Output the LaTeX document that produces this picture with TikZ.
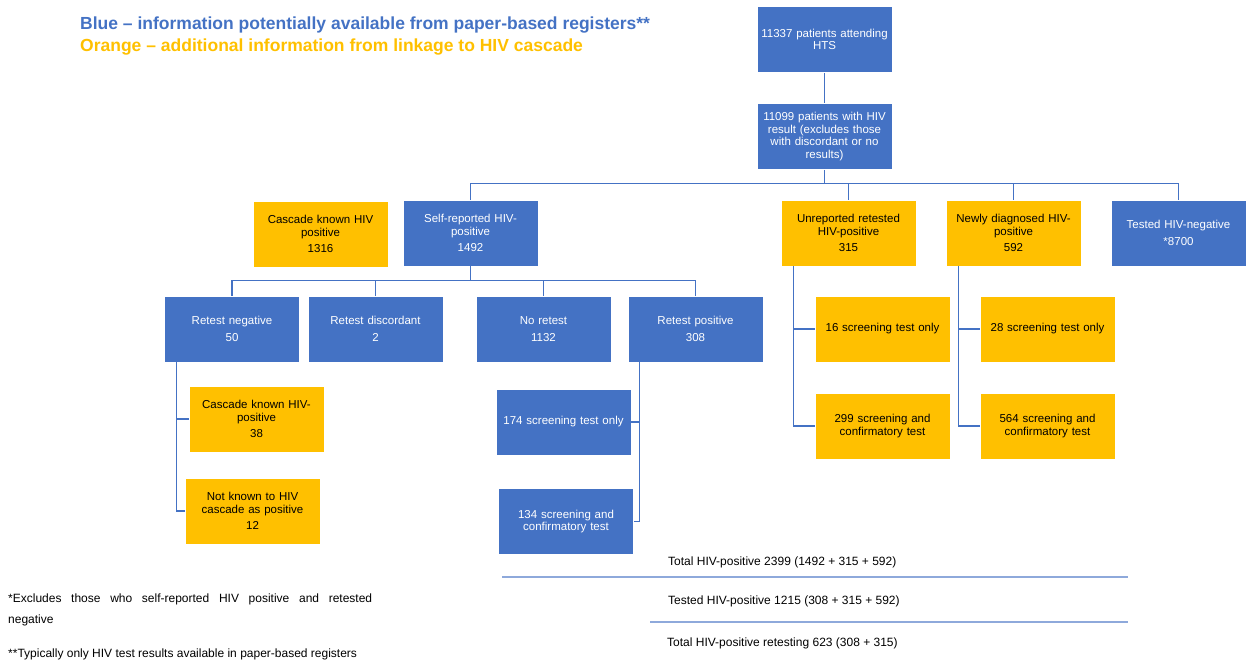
\documentclass[tikz,border=0pt]{standalone}
\usepackage{fontspec}
\setmainfont{Liberation Sans}
\definecolor{bblue}{HTML}{4472C4}
\definecolor{borange}{HTML}{FFC000}
\definecolor{lline}{HTML}{8EA9DB}
\begin{document}
\begin{tikzpicture}[x=1pt,y=-1pt,
  box/.style={rectangle, minimum width=135pt, minimum height=66pt, text width=133pt, inner sep=1pt, align=center, font=\fontsize{11.5}{12.6}\selectfont, draw=white, line width=0.5pt},
  bluebox/.style={box, fill=bblue, text=white},
  orbox/.style={box, fill=borange, text=black},
  conn/.style={draw=bblue, line width=1.3pt},
  sep/.style={draw=lline, line width=1.2pt},
  note/.style={anchor=west, inner sep=0pt, font=\fontsize{12}{14}\selectfont},
  head/.style={anchor=west, inner sep=0pt, font=\fontsize{17.5}{20}\selectfont\bfseries}]
\useasboundingbox (0,0) rectangle (1249,664);

% legend
\node[head, text=bblue] (h1) at (80,25) {Blue – information potentially available from paper-based registers**};
\node[head, text=borange] (h2) at (80,47) {Orange – additional information from linkage to HIV cascade};

% top
\node[bluebox] (A) at (824.5,39.5) {11337 patients attending\\HTS};
\node[bluebox] (B) at (824.5,136.5) {11099 patients with HIV\\result (excludes those\\with discordant or no\\results)};

% level 2
\node[orbox] (c1316) at (320.5,234) {Cascade known HIV\\positive\\[4pt]1316};
\node[bluebox] (self) at (470.5,233) {Self-reported HIV-\\positive\\[4pt]1492};
\node[orbox] (unrep) at (848.5,233) {Unreported retested\\HIV-positive\\[4pt]315};
\node[orbox] (newly) at (1013.5,233) {Newly diagnosed HIV-\\positive\\[4pt]592};
\node[bluebox] (neg) at (1178.5,233) {Tested HIV-negative\\[5pt]*8700};

% level 3
\node[bluebox] (rneg) at (232,329) {Retest negative\\[5pt]50};
\node[bluebox] (rdisc) at (375.5,329) {Retest discordant\\[5pt]2};
\node[bluebox] (nore) at (543.5,329) {No retest\\[5pt]1132};
\node[bluebox] (rpos) at (695.5,329) {Retest positive\\[5pt]308};

\node[orbox] (s16) at (882.5,329) {16 screening test only};
\node[orbox] (s299) at (882.5,426) {299 screening and\\confirmatory test};
\node[orbox] (s28) at (1047.5,329) {28 screening test only};
\node[orbox] (s564) at (1047.5,426) {564 screening and\\confirmatory test};

% level 4
\node[orbox] (c38) at (256.5,419) {Cascade known HIV-\\positive\\[4pt]38};
\node[orbox] (nk12) at (252.5,511) {Not known to HIV\\cascade as positive\\[4pt]12};
\node[bluebox] (s174) at (563.5,422) {174 screening test only};
\node[bluebox] (s134) at (566,521.5) {134 screening and\\confirmatory test};

% connectors
\draw[conn] (A.south) -- (B.north);
\draw[conn] (B.south) -- ++(0,14);
\draw[conn] (self.north) -- ++(0,-16) -| (neg.north);
\draw[conn] (unrep.north) -- ++(0,-16);
\draw[conn] (newly.north) -- ++(0,-16);

\draw[conn] (self.south) -- ++(0,15);
\draw[conn] (rneg.north) -- ++(0,-15) -| (rpos.north);
\draw[conn] (rdisc.north) -- ++(0,-15);
\draw[conn] (nore.north) -- ++(0,-15);

\draw[conn] ([xshift=12pt]rneg.south west) |- (c38.west);
\draw[conn] ([xshift=12pt]rneg.south west) |- (nk12.west);
\draw[conn] ([xshift=12pt]rpos.south west) |- (s174.east);
\draw[conn] ([xshift=12pt]rpos.south west) |- (s134.east);
\draw[conn] ([xshift=13pt]unrep.south west) |- (s16.west);
\draw[conn] ([xshift=13pt]unrep.south west) |- (s299.west);
\draw[conn] ([xshift=13pt]newly.south west) |- (s564.west);
\draw[conn] ([xshift=13pt]newly.south west) |- (s28.west);

% totals
\node[note] (t1) at (668,562) {Total HIV-positive 2399 (1492 + 315 + 592)};
\coordinate (l1a) at (502,577); \coordinate (l1b) at (1128,577);
\draw[sep] (l1a) -- (l1b);
\node[note] (t2) at (668,601) {Tested HIV-positive 1215 (308 + 315 + 592)};
\coordinate (l2a) at (650,622); \coordinate (l2b) at (1128,622);
\draw[sep] (l2a) -- (l2b);
\node[note] (t3) at (667,643) {Total HIV-positive retesting 623 (308 + 315)};

% footnotes
\node[note] (f1) at (8,599) {\makebox[364pt][s]{*Excludes those who self-reported HIV positive and retested}};
\node[note] (f2) at (8,620) {negative};
\node[note] (f3) at (8,654) {**Typically only HIV test results available in paper-based registers};
\end{tikzpicture}
\end{document}
